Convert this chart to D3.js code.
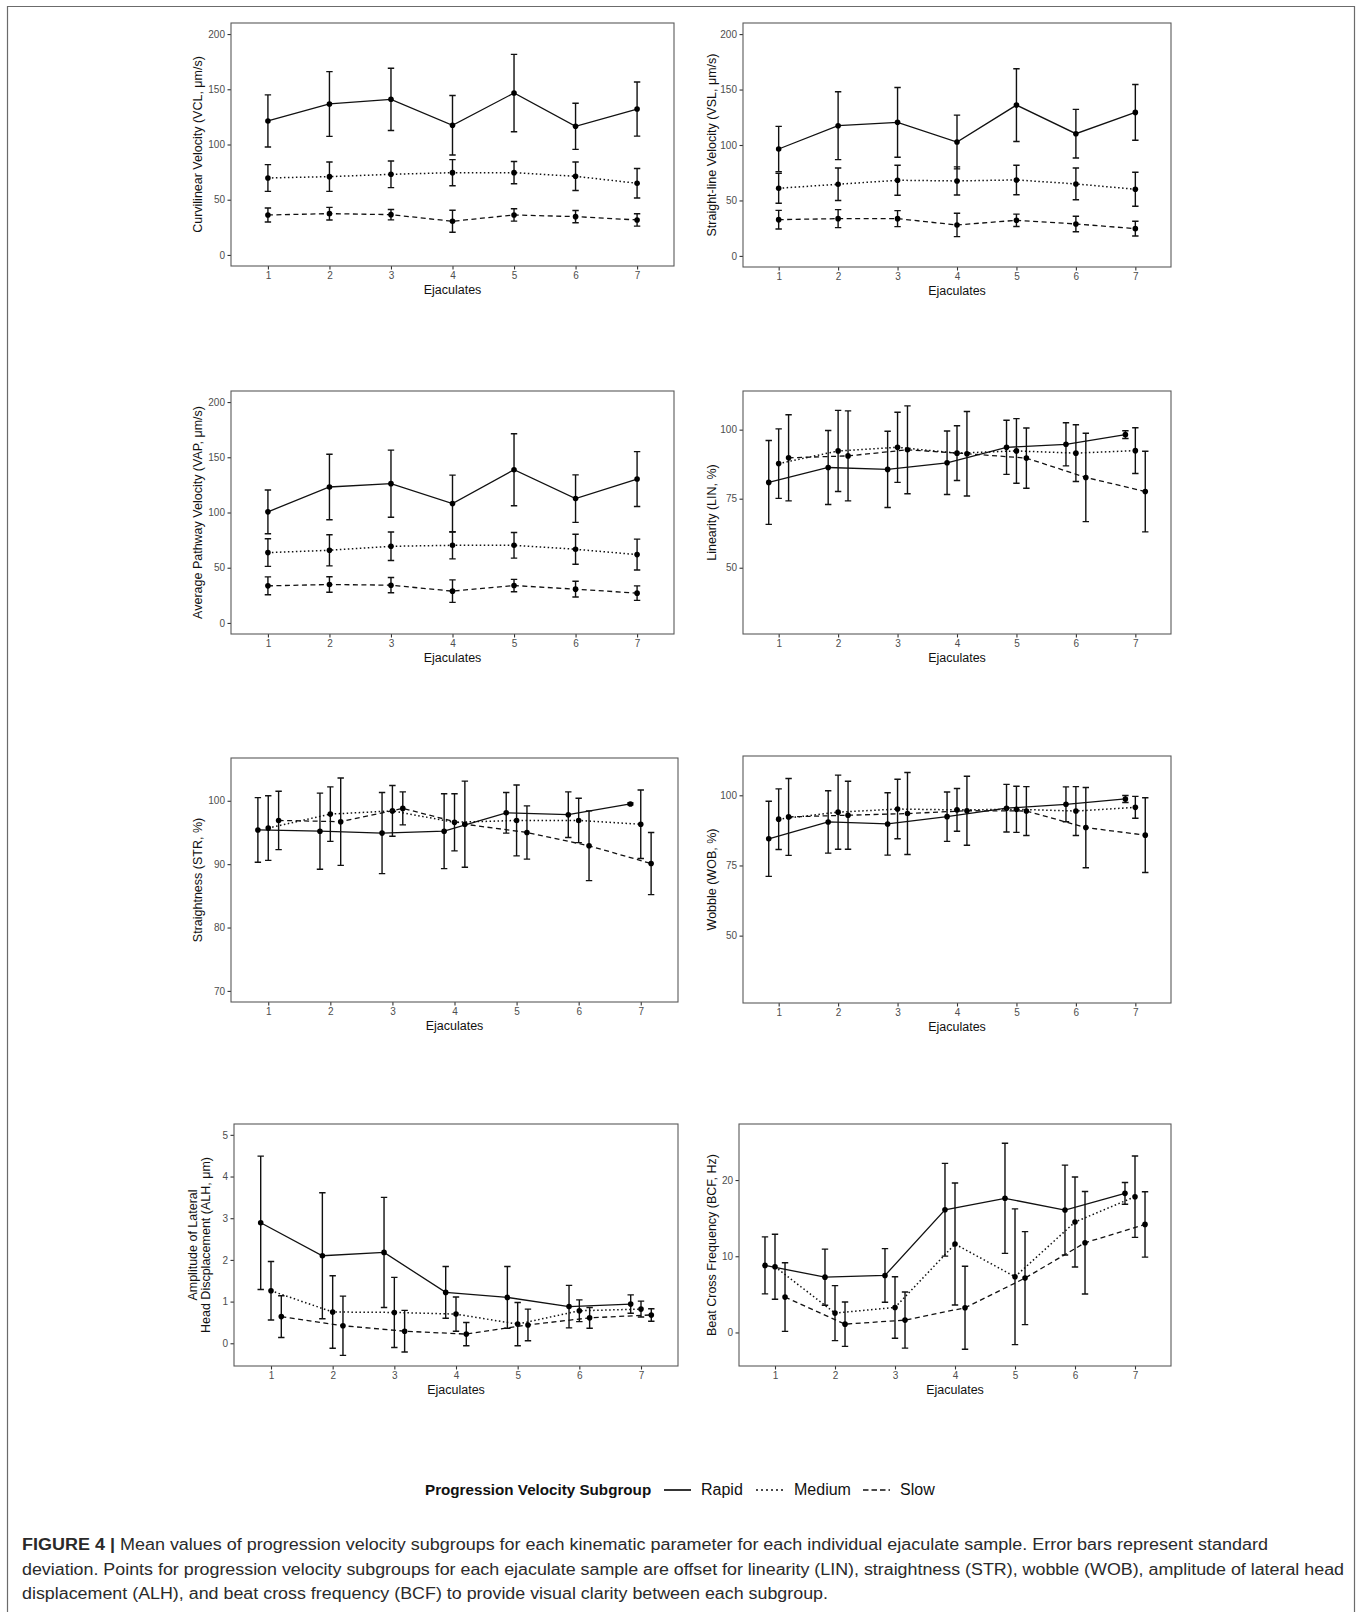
<!DOCTYPE html>
<html><head><meta charset="utf-8">
<script src="https://cdn.jsdelivr.net/npm/d3@7"></script>
<style>body{margin:0;background:#fff} svg{display:block}</style>
</head><body>
<svg id="fig" width="1357" height="1612"></svg>
<script>
// ---------- data ----------
const ejaculates = [1, 2, 3, 4, 5, 6, 7];
const subgroups = ["Rapid", "Medium", "Slow"];

// each: [rapid, medium, slow]
const vclMean = [[121.3,136.7,140.9,117.4,146.6,116.5,132.1],[69.7,70.9,73.0,74.5,74.5,71.2,64.9],[36.2,37.4,36.5,30.5,36.2,34.7,31.7]];
const vclSD   = [[23.6,29.3,28.2,26.9,35.0,20.9,24.5],[12.1,13.3,12.0,11.8,10.1,12.9,13.4],[6.3,5.7,4.7,10.0,5.6,5.6,5.6]];
const vslMean = [[96.4,117.4,120.4,102.7,136.0,110.2,129.4],[61.0,64.6,68.2,67.6,68.5,64.9,60.1],[32.7,33.6,33.6,27.9,32.1,28.8,24.6]];
const vslSD   = [[20.4,30.6,31.5,24.2,32.8,21.9,25.1],[13.5,14.6,13.5,12.7,13.3,14.3,15.3],[8.4,8.1,7.2,10.5,5.6,7.0,6.6]];
const vapMean = [[100.6,123.1,126.1,108.1,138.7,112.6,130.3],[63.7,65.8,69.4,70.3,70.3,66.7,61.9],[33.6,34.8,34.2,28.8,33.9,30.6,27.0]];
const vapSD   = [[19.8,29.6,30.4,25.7,32.6,21.5,24.8],[12.5,14.1,12.9,12.3,11.6,13.6,14.0],[8.1,7.0,6.9,10.2,5.6,7.1,6.6]];
const linMean = [[80.9,86.3,85.6,88.0,93.6,94.7,98.2],[87.7,92.3,93.6,91.5,92.3,91.5,92.4],[89.8,90.5,92.7,91.3,89.7,82.7,77.6]];
const linSD   = [[15.2,13.4,13.8,11.5,9.8,7.8,1.4],[12.6,14.7,12.7,9.9,11.7,10.3,8.3],[15.6,16.3,15.9,15.3,10.9,16.0,14.6]];
const strMean = [[95.4,95.2,94.9,95.2,98.1,97.8,99.5],[95.7,97.9,98.4,96.6,96.9,96.9,96.3],[96.9,96.7,98.8,96.3,95.0,92.9,90.1]];
const strSD   = [[5.1,6.0,6.4,5.9,3.2,3.6,0.15],[5.1,4.3,4.0,4.5,5.6,3.5,5.4],[4.6,6.9,2.6,6.8,4.2,5.5,4.9]];
const wobMean = [[84.5,90.5,89.8,92.4,95.4,96.8,98.7],[91.5,94.0,95.1,94.8,95.0,94.4,95.7],[92.3,92.9,93.5,94.5,94.4,88.5,85.8]];
const wobSD   = [[13.4,11.1,11.1,8.8,8.5,6.2,1.25],[10.8,13.2,10.6,7.6,8.2,8.7,3.9],[13.7,12.1,14.6,12.3,8.7,14.3,13.3]];
const alhMean = [[2.89,2.10,2.18,1.22,1.10,0.88,0.94],[1.26,0.75,0.74,0.70,0.46,0.78,0.82],[0.64,0.42,0.29,0.22,0.44,0.61,0.68]];
const alhSD   = [[1.60,1.51,1.32,0.62,0.74,0.51,0.22],[0.70,0.87,0.84,0.41,0.52,0.26,0.19],[0.50,0.71,0.50,0.28,0.38,0.25,0.15]];
const bcfMean = [[8.80,7.26,7.48,16.1,17.6,16.06,18.25],[8.62,2.54,3.28,11.6,7.31,14.49,17.81],[4.64,1.09,1.62,3.24,7.13,11.77,14.18]];
const bcfSD   = [[3.74,3.68,3.52,6.08,7.22,5.89,1.42],[4.27,3.61,4.03,8.0,8.91,5.9,5.34],[4.5,2.91,3.68,5.45,6.1,6.72,4.29]];

const velocityTicks = [0, 50, 100, 150, 200];
const percentTicks = [50, 75, 100];
const strTicks = [70, 80, 90, 100];
const alhTicks = [0, 1, 2, 3, 4, 5];
const bcfTicks = [0, 10, 20];

const captionLines = [
  ["FIGURE 4 |", " Mean values of progression velocity subgroups for each kinematic parameter for each individual ejaculate sample. Error bars represent standard"],
  ["", "deviation. Points for progression velocity subgroups for each ejaculate sample are offset for linearity (LIN), straightness (STR), wobble (WOB), amplitude of lateral head"],
  ["", "displacement (ALH), and beat cross frequency (BCF) to provide visual clarity between each subgroup."]
];

// ---------- layout ----------
const panels = [
  {title:["Curvilinear Velocity (VCL, μm/s)"], mean:vclMean, sd:vclSD, ticks:velocityTicks, dom:[-10,210], dodge:0, box:[231,23,674,266], tx:198},
  {title:["Straight-line Velocity (VSL, μm/s)"], mean:vslMean, sd:vslSD, ticks:velocityTicks, dom:[-10,210], dodge:0, box:[743,23,1171,267], tx:712},
  {title:["Average Pathway Velocity (VAP, μm/s)"], mean:vapMean, sd:vapSD, ticks:velocityTicks, dom:[-10,210], dodge:0, box:[231,391,674,634], tx:198},
  {title:["Linearity (LIN, %)"], mean:linMean, sd:linSD, ticks:percentTicks, dom:[26,114], dodge:0.167, box:[743,391,1171,634], tx:712},
  {title:["Straightness (STR, %)"], mean:strMean, sd:strSD, ticks:strTicks, dom:[68.25,106.75], dodge:0.167, box:[231,758,678,1002], tx:198},
  {title:["Wobble (WOB, %)"], mean:wobMean, sd:wobSD, ticks:percentTicks, dom:[26,114], dodge:0.167, box:[743,756,1171,1003], tx:712},
  {title:["Amplitude of Lateral","Head Discplacement (ALH, μm)"], mean:alhMean, sd:alhSD, ticks:alhTicks, dom:[-0.545,5.26], dodge:0.167, box:[234,1124,678,1366], tx:200},
  {title:["Beat Cross Frequency (BCF, Hz)"], mean:bcfMean, sd:bcfSD, ticks:bcfTicks, dom:[-4.4,27.35], dodge:0.167, box:[739,1124,1171,1366], tx:712}
];
const dashes = [null, "1.5,2.5", "5,3.5"];
const FONT = "'Liberation Sans', Arial, Helvetica, sans-serif";

const svg = d3.select("#fig");
svg.append("rect").attr("width",1357).attr("height",1612).attr("fill","#fff");
// outer figure frame
svg.append("path").attr("d","M7.5,1612 V6.5 H1354.5 V1612").attr("fill","none").attr("stroke","#6b6b6b").attr("stroke-width",1.2);

panels.forEach(p => {
  const [x0,y0,x1,y1] = p.box;
  const x = d3.scaleLinear().domain([0.4,7.6]).range([x0,x1]);
  const y = d3.scaleLinear().domain(p.dom).range([y1,y0]);
  const g = svg.append("g");

  // axes
  const ya = g.append("g").attr("transform",`translate(${x0},0)`)
    .call(d3.axisLeft(y).tickValues(p.ticks).tickSize(3.5).tickPadding(2.5).tickFormat(d3.format("d")));
  const xa = g.append("g").attr("transform",`translate(0,${y1})`)
    .call(d3.axisBottom(x).tickValues(ejaculates).tickSize(3.5).tickPadding(2.5).tickFormat(d3.format("d")));
  [ya,xa].forEach(a => {
    a.select(".domain").remove();
    a.selectAll(".tick line").attr("stroke","#333").attr("stroke-width",1.1);
    a.selectAll(".tick text").attr("fill","#4d4d4d").style("font-family",FONT).style("font-size","10px");
  });

  // panel border
  g.append("rect").attr("x",x0).attr("y",y0).attr("width",x1-x0).attr("height",y1-y0)
    .attr("fill","none").attr("stroke","#5a5a5a").attr("stroke-width",1.1);

  // titles
  g.append("text").attr("x",(x0+x1)/2).attr("y",y1+28).attr("text-anchor","middle")
    .style("font-family",FONT).style("font-size","12.5px").attr("fill","#111").text("Ejaculates");
  const cy = (y0+y1)/2;
  const tt = g.append("text").attr("transform",`translate(${p.tx},${cy}) rotate(-90)`)
    .attr("text-anchor","middle").style("font-family",FONT).style("font-size","12.5px").attr("fill","#111");
  if (p.title.length === 1) {
    tt.append("tspan").attr("x",0).attr("dy","0.35em").text(p.title[0]);
  } else {
    tt.append("tspan").attr("x",0).attr("dy","-0.25em").text(p.title[0]);
    tt.append("tspan").attr("x",0).attr("dy","1.05em").text(p.title[1]);
  }

  const offsets = [-p.dodge, 0, p.dodge];
  subgroups.forEach((s, gi) => {
    const pts = ejaculates.map((e,i) => ({x: e + offsets[gi], m: p.mean[gi][i], sd: p.sd[gi][i]}));
    const line = d3.line().x(d => x(d.x)).y(d => y(d.m));
    const path = g.append("path").datum(pts).attr("d",line).attr("fill","none")
      .attr("stroke","#111").attr("stroke-width",gi===1?1.5:1.3);
    if (dashes[gi]) path.attr("stroke-dasharray",dashes[gi]);
    // error bars
    pts.forEach(d => {
      const xc = x(d.x), yt = y(d.m + d.sd), yb = y(d.m - d.sd);
      g.append("path").attr("d",`M${xc},${yt}V${yb}M${xc-3.2},${yt}H${xc+3.2}M${xc-3.2},${yb}H${xc+3.2}`)
        .attr("fill","none").attr("stroke","#111").attr("stroke-width",1.4);
    });
    g.selectAll(null).data(pts).enter().append("circle")
      .attr("cx",d => x(d.x)).attr("cy",d => y(d.m)).attr("r",2.8).attr("fill","#000");
  });
});

// ---------- legend ----------
const lg = svg.append("g").style("font-family",FONT);
const legY = 1495;
lg.append("text").attr("x",425).attr("y",legY).style("font-size","15.2px").style("font-weight","bold").attr("fill","#111").text("Progression Velocity Subgroup");
const legItems = [{x1:664,x2:691,tx:701},{x1:756,x2:784,tx:794},{x1:863,x2:890,tx:900}];
subgroups.forEach((s,i) => {
  const it = legItems[i];
  const l = lg.append("line").attr("x1",it.x1).attr("x2",it.x2).attr("y1",legY-5).attr("y2",legY-5)
    .attr("stroke","#111").attr("stroke-width",1.7);
  if (dashes[i]) l.attr("stroke-dasharray",i===1?"2,3":"5.5,3");
  lg.append("text").attr("x",it.tx).attr("y",legY).style("font-size","16px").attr("fill","#111").text(s);
});

// ---------- caption ----------
const capY = [1550, 1574.5, 1599];
const capLen = [1246, 1322, 806];
captionLines.forEach((ln,i) => {
  const t = svg.append("text").attr("x",22).attr("y",capY[i]).style("font-family",FONT).style("font-size","16px").attr("fill","#2a2a2a")
    .attr("textLength",capLen[i]).attr("lengthAdjust","spacingAndGlyphs");
  if (ln[0]) t.append("tspan").style("font-weight","bold").text(ln[0]);
  t.append("tspan").text(ln[1]);
});
</script>
</body></html>
